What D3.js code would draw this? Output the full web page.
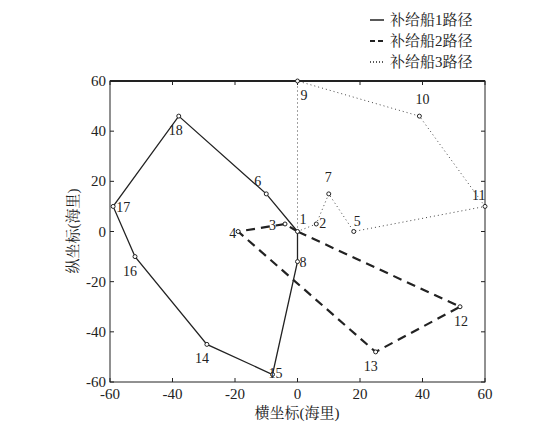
<!DOCTYPE html><html><head><meta charset="utf-8">
<script src="https://cdn.jsdelivr.net/npm/d3@7"></script>
<style>body{margin:0;background:#fff}text{font-family:"Liberation Serif","Noto Serif CJK SC","Noto Sans CJK SC",serif;fill:#222}</style></head><body>
<svg id="c" width="550" height="432"></svg>
<script>
const pts={1:[0,0],2:[6,3],3:[-4,3],4:[-19,0],5:[18,0],6:[-10,15],7:[10,15],8:[0,-12],9:[0,60],10:[39,46],11:[60,10],12:[52,-30],13:[25,-48],14:[-29,-45],15:[-8,-57],16:[-52,-10],17:[-59,10],18:[-38,46]};
const route1=[1,6,18,17,16,14,15,8,1];
const route2=[1,3,4,13,12,1];
const route3=[1,9,10,11,5,7,2,1];
const xTicks=[-60,-40,-20,0,20,40,60], yTicks=[-60,-40,-20,0,20,40,60];
const legend=["补给船1路径","补给船2路径","补给船3路径"];
const labelOff={1:[2,-8],2:[3,4],3:[-16,6],4:[-9,6],5:[0,-6],6:[-12,-8],7:[-4,-12],8:[2,5],9:[3,19],10:[-4,-12],11:[-13,-6],12:[-6,19],13:[-12,19],14:[-12,19],15:[-4,4],16:[-12,19],17:[3,6],18:[-10,19]};
const svg=d3.select("#c");
const x=d3.scaleLinear().domain([-60,60]).range([110,485]);
const y=d3.scaleLinear().domain([-60,60]).range([382,81]);
const g=svg.append("g");
g.append("rect").attr("x",110).attr("y",81).attr("width",375).attr("height",301).attr("fill","none").attr("stroke","#222").attr("stroke-width",1);
g.append("line").attr("x1",110).attr("x2",485).attr("y1",81).attr("y2",81).attr("stroke","#222").attr("stroke-width",2);
xTicks.forEach(t=>{g.append("line").attr("x1",x(t)).attr("x2",x(t)).attr("y1",382).attr("y2",378).attr("stroke","#222");
 g.append("line").attr("x1",x(t)).attr("x2",x(t)).attr("y1",81).attr("y2",85).attr("stroke","#222");
 g.append("text").attr("x",x(t)).attr("y",399).attr("text-anchor","middle").attr("font-size",15).text(t);});
yTicks.forEach(t=>{g.append("line").attr("x1",110).attr("x2",114).attr("y1",y(t)).attr("y2",y(t)).attr("stroke","#222");
 g.append("line").attr("x1",485).attr("x2",481).attr("y1",y(t)).attr("y2",y(t)).attr("stroke","#222");
 g.append("text").attr("x",106).attr("y",y(t)+5).attr("text-anchor","end").attr("font-size",15).text(t);});
const line=d3.line().x(d=>x(pts[d][0])).y(d=>y(pts[d][1]));
g.append("path").attr("d",line(route1)).attr("fill","none").attr("stroke","#222").attr("stroke-width",1.3);
g.append("path").attr("d",line(route2)).attr("fill","none").attr("stroke","#222").attr("stroke-width",2.2).attr("stroke-dasharray","9,6");
g.append("path").attr("d",line(route3)).attr("fill","none").attr("stroke","#444").attr("stroke-width",1).attr("stroke-dasharray","1,3");
Object.keys(pts).forEach(k=>{const p=pts[k];
 g.append("circle").attr("cx",x(p[0])).attr("cy",y(p[1])).attr("r",2).attr("fill","#fff").attr("stroke","#222");
 g.append("text").attr("x",x(p[0])+labelOff[k][0]).attr("y",y(p[1])+labelOff[k][1]).attr("font-size",14).text(k);});
g.append("text").attr("x",297).attr("y",418).attr("text-anchor","middle").attr("font-size",15).text("横坐标(海里)");
g.append("text").attr("transform","translate(78,231) rotate(-90)").attr("text-anchor","middle").attr("font-size",15).text("纵坐标(海里)");
const dashes=[null,"5,3","1,2"];
legend.forEach((l,i)=>{const yy=20+i*21;
 g.append("line").attr("x1",370).attr("x2",384).attr("y1",yy).attr("y2",yy).attr("stroke","#222").attr("stroke-width",i==1?2:1.5).attr("stroke-dasharray",dashes[i]);
 g.append("text").attr("x",390).attr("y",yy+5).attr("font-size",15).text(l);});
</script></body></html>
